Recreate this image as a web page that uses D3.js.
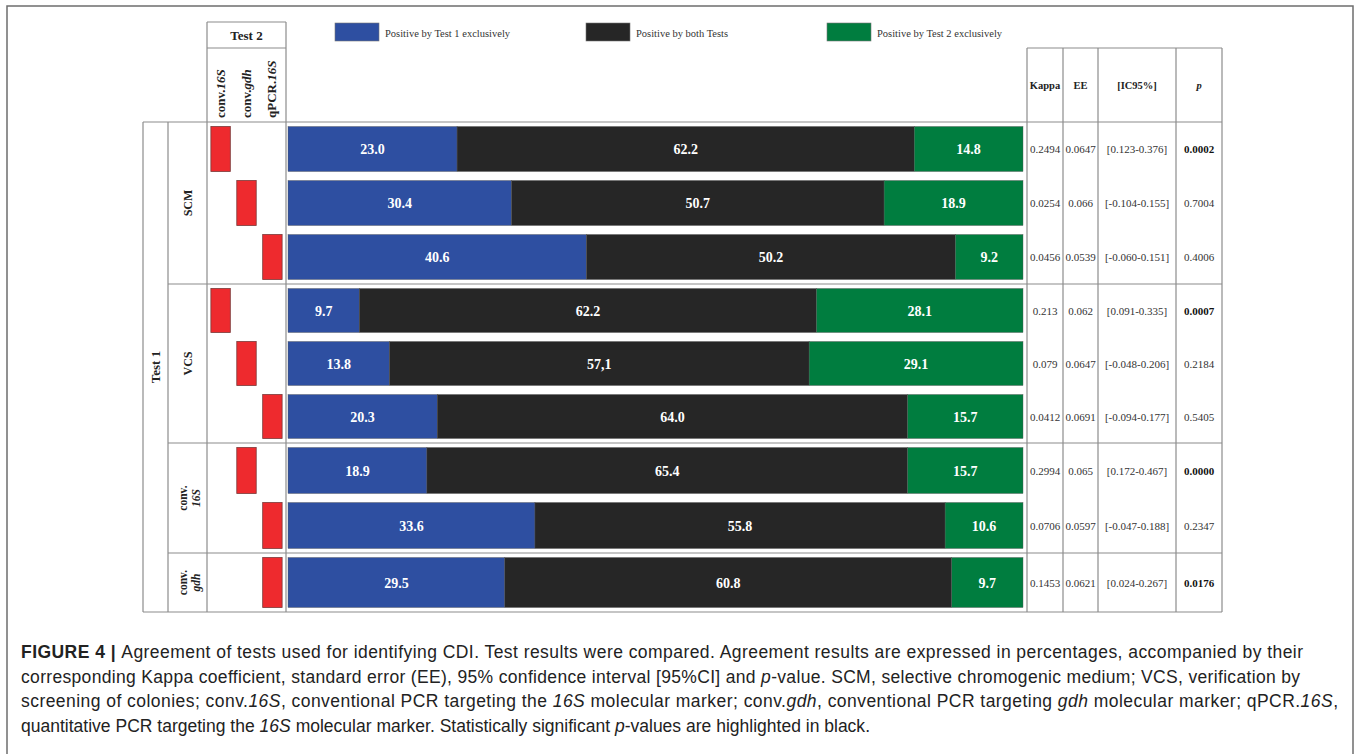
<!DOCTYPE html>
<html>
<head>
<meta charset="utf-8">
<script src="https://cdn.jsdelivr.net/npm/d3@7"></script>
<style>
  html, body { margin: 0; padding: 0; background: #fff; }
  svg { display: block; }
  .serif { font-family: "Liberation Serif", "Times New Roman", serif; }
  .cap { font-family: "Liberation Sans", Arial, sans-serif; font-size: 17.5px; fill: #222; }
</style>
</head>
<body>
<svg id="chart" width="1357" height="754"></svg>
<script>
// ---- data ----
var groups = ['SCM', 'VCS', 'conv.16S', 'conv.gdh'];
var test2Tests = ['conv.16S', 'conv.gdh', 'qPCR.16S'];
var rowGroup = ['SCM', 'SCM', 'SCM', 'VCS', 'VCS', 'VCS', 'conv.16S', 'conv.16S', 'conv.gdh'];
var rowTest2 = ['conv.16S', 'conv.gdh', 'qPCR.16S', 'conv.16S', 'conv.gdh', 'qPCR.16S', 'conv.gdh', 'qPCR.16S', 'qPCR.16S'];
var seriesNames = ['Positive by Test 1 exclusively', 'Positive by both Tests', 'Positive by Test 2 exclusively'];
var onlyTest1 = [23.0, 30.4, 40.6, 9.7, 13.8, 20.3, 18.9, 33.6, 29.5];
var bothTests = [62.2, 50.7, 50.2, 62.2, 57.1, 64.0, 65.4, 55.8, 60.8];
var onlyTest2 = [14.8, 18.9, 9.2, 28.1, 29.1, 15.7, 15.7, 10.6, 9.7];
var commaLabel = [[4, 1]]; // row 5 middle value is printed as "57,1"
var kappa = ['0.2494', '0.0254', '0.0456', '0.213', '0.079', '0.0412', '0.2994', '0.0706', '0.1453'];
var ee = ['0.0647', '0.066', '0.0539', '0.062', '0.0647', '0.0691', '0.065', '0.0597', '0.0621'];
var ic95 = ['[0.123-0.376]', '[-0.104-0.155]', '[-0.060-0.151]', '[0.091-0.335]', '[-0.048-0.206]',
            '[-0.094-0.177]', '[0.172-0.467]', '[-0.047-0.188]', '[0.024-0.267]'];
var pValues = ['0.0002', '0.7004', '0.4006', '0.0007', '0.2184', '0.5405', '0.0000', '0.2347', '0.0176'];

var svg = d3.select('#chart');
var lineColor = '#8c8c8c';
var colors = d3.scaleOrdinal().domain(seriesNames).range(['#2e4fa1', '#262626', '#007d3f']);

// layout frame of the table
var tableTop = 122, tableBottom = 612;
var groupEdges = [122, 284, 443, 553, 612];
var colX = { test1: 143, sub: 168, markers: 207, bars: 286, kappa: 1027, ee: 1063, ic: 1098, p: 1176, end: 1222 };

var x = d3.scaleLinear().domain([0, 100]).range([colX.bars + 2, colX.kappa - 4]);
var mx = d3.scaleBand().domain(test2Tests).range([colX.markers, colX.bars]).paddingInner(0.25).paddingOuter(0.15);

// one band scale per Test 1 group
var yGroup = {};
groups.forEach(function(g, gi) {
  var rows = d3.range(rowGroup.length).filter(function(i) { return rowGroup[i] === g; });
  yGroup[g] = d3.scaleBand().domain(rows).range([groupEdges[gi], groupEdges[gi + 1]]);
});
function rowTop(i) { return yGroup[rowGroup[i]](i); }
function rowH(i) { return yGroup[rowGroup[i]].bandwidth(); }
function rowMid(i) { return rowTop(i) + rowH(i) / 2; }

// outer figure frame
svg.append('path')
  .attr('d', 'M7,754 V6 H1353 V754')
  .attr('fill', 'none').attr('stroke', '#6e6e6e').attr('stroke-width', 1.5);

// ---- legend ----
var legendX = [335, 586, 827];
var legend = svg.append('g').attr('class', 'serif');
seriesNames.forEach(function(s, i) {
  legend.append('rect')
    .attr('x', legendX[i]).attr('y', 23).attr('width', 44).attr('height', 18)
    .attr('fill', colors(s)).attr('stroke', '#777').attr('stroke-width', 0.6);
  legend.append('text')
    .attr('x', legendX[i] + 50).attr('y', 37)
    .style('font-size', '10.5px').style('fill', '#333')
    .text(s);
});

// ---- grid lines ----
var grid = svg.append('g').attr('stroke', lineColor).attr('stroke-width', 1.2).attr('fill', 'none');
function hline(x1, x2, y) { grid.append('line').attr('x1', x1).attr('x2', x2).attr('y1', y).attr('y2', y); }
function vline(xv, y1, y2) { grid.append('line').attr('x1', xv).attr('x2', xv).attr('y1', y1).attr('y2', y2); }

hline(colX.test1, colX.end, tableTop);
hline(colX.test1, colX.end, tableBottom);
groupEdges.slice(1, -1).forEach(function(y) { hline(colX.sub, colX.end, y); });
vline(colX.test1, tableTop, tableBottom);
vline(colX.sub, tableTop, tableBottom);
vline(colX.markers, 22, tableBottom);
vline(colX.bars, 22, tableBottom);
hline(colX.markers, colX.bars, 22);
hline(colX.markers, colX.bars, 48);
hline(colX.kappa, colX.end, 48);
[colX.kappa, colX.ee, colX.ic, colX.p, colX.end].forEach(function(xv) { vline(xv, 48, tableBottom); });

// ---- Test 2 header ----
var head = svg.append('g').attr('class', 'serif').style('font-weight', 'bold').style('fill', '#222');
head.append('text')
  .attr('x', (colX.markers + colX.bars) / 2).attr('y', 40)
  .attr('text-anchor', 'middle').style('font-size', '13px')
  .text('Test 2');

test2Tests.forEach(function(t) {
  var parts = t.split('.');
  var tx = head.append('text')
    .attr('transform', 'translate(' + (mx(t) + mx.bandwidth() / 2 + 4) + ',118) rotate(-90)')
    .style('font-size', '13px');
  tx.append('tspan').text(parts[0] + '.');
  tx.append('tspan').style('font-style', 'italic').text(parts[1]);
});

// right table header
var tableCols = [
  { key: 'kappa', x0: colX.kappa, x1: colX.ee, title: 'Kappa', vals: kappa },
  { key: 'ee', x0: colX.ee, x1: colX.ic, title: 'EE', vals: ee },
  { key: 'ic', x0: colX.ic, x1: colX.p, title: '[IC95%]', vals: ic95 },
  { key: 'p', x0: colX.p, x1: colX.end, title: 'p', vals: pValues }
];
tableCols.forEach(function(c) {
  head.append('text')
    .attr('x', (c.x0 + c.x1) / 2).attr('y', 89)
    .attr('text-anchor', 'middle')
    .style('font-size', '10.5px')
    .style('font-style', c.key === 'p' ? 'italic' : 'normal')
    .text(c.title);
});

// ---- Test 1 labels ----
head.append('text')
  .attr('transform', 'translate(' + ((colX.test1 + colX.sub) / 2 + 4) + ',' + ((tableTop + tableBottom) / 2) + ') rotate(-90)')
  .attr('text-anchor', 'middle').style('font-size', '13px')
  .text('Test 1');

groups.forEach(function(g, gi) {
  var cy = (groupEdges[gi] + groupEdges[gi + 1]) / 2;
  var cx = (colX.sub + colX.markers) / 2;
  var parts = g.split('.');
  if (parts.length === 1) {
    head.append('text')
      .attr('transform', 'translate(' + (cx + 4) + ',' + cy + ') rotate(-90)')
      .attr('text-anchor', 'middle').style('font-size', '12px')
      .text(g);
  } else {
    head.append('text')
      .attr('transform', 'translate(' + (cx - 1) + ',' + cy + ') rotate(-90)')
      .attr('text-anchor', 'middle').style('font-size', '11.5px')
      .text(parts[0] + '.');
    head.append('text')
      .attr('transform', 'translate(' + (cx + 12) + ',' + cy + ') rotate(-90)')
      .attr('text-anchor', 'middle').style('font-size', '11.5px').style('font-style', 'italic')
      .text(parts[1]);
  }
});

// ---- red markers ----
svg.append('g').selectAll('rect')
    .data(d3.range(rowGroup.length))
  .enter().append('rect')
    .attr('x', function(i) { return mx(rowTest2[i]); })
    .attr('y', function(i) { return rowTop(i) + 4.5; })
    .attr('width', mx.bandwidth())
    .attr('height', function(i) { return rowH(i) - 9; })
    .attr('fill', '#ee2a2e')
    .attr('stroke', '#7a3a3a').attr('stroke-width', 0.8);

// ---- stacked bars ----
var stackData = d3.range(rowGroup.length).map(function(i) {
  var o = { row: i };
  o[seriesNames[0]] = onlyTest1[i];
  o[seriesNames[1]] = bothTests[i];
  o[seriesNames[2]] = onlyTest2[i];
  return o;
});
var stacked = d3.stack().keys(seriesNames)(stackData);

var layers = svg.append('g').selectAll('g')
    .data(stacked)
  .enter().append('g')
    .attr('fill', function(d) { return colors(d.key); });

layers.selectAll('rect')
    .data(function(d) { return d; })
  .enter().append('rect')
    .attr('x', function(d) { return x(d[0]); })
    .attr('y', function(d) { return rowTop(d.data.row) + 4.5; })
    .attr('width', function(d) { return x(d[1]) - x(d[0]); })
    .attr('height', function(d) { return rowH(d.data.row) - 9; })
    .attr('stroke', '#555').attr('stroke-width', 0.4);

var fmt = d3.format('.1f');
layers.each(function(layer, li) {
  d3.select(this).selectAll('text')
      .data(layer)
    .enter().append('text')
      .attr('class', 'serif')
      .attr('x', function(d) { return (x(d[0]) + x(d[1])) / 2; })
      .attr('y', function(d) { return rowMid(d.data.row) + 5; })
      .attr('text-anchor', 'middle')
      .style('font-size', '14px').style('font-weight', 'bold').style('fill', '#fff')
      .text(function(d) {
        var s = fmt(d[1] - d[0]);
        var comma = commaLabel.some(function(c) { return c[0] === d.data.row && c[1] === li; });
        return comma ? s.replace('.', ',') : s;
      });
});

// ---- right table values ----
var vals = svg.append('g').attr('class', 'serif').style('fill', '#333');
tableCols.forEach(function(c) {
  vals.selectAll('text.' + c.key)
      .data(c.vals)
    .enter().append('text')
      .attr('class', c.key)
      .attr('x', (c.x0 + c.x1) / 2)
      .attr('y', function(d, i) { return rowMid(i) + 4; })
      .attr('text-anchor', 'middle')
      .style('font-size', '11px')
      .style('font-weight', function(d) { return c.key === 'p' && +d < 0.05 ? 'bold' : 'normal'; })
      .style('fill', function(d) { return c.key === 'p' && +d < 0.05 ? '#111' : '#333'; })
      .text(function(d) { return d; });
});

// ---- caption ----
var captionLines = [
  [['b', 'FIGURE 4 | '], ['', 'Agreement of tests used for identifying CDI. Test results were compared. Agreement results are expressed in percentages, accompanied by their']],
  [['', 'corresponding Kappa coefficient, standard error (EE), 95% confidence interval [95%CI] and '], ['i', 'p'], ['', '-value. SCM, selective chromogenic medium; VCS, verification by']],
  [['', 'screening of colonies; conv.'], ['i', '16S'], ['', ', conventional PCR targeting the '], ['i', '16S'], ['', ' molecular marker; conv.'], ['i', 'gdh'], ['', ', conventional PCR targeting '], ['i', 'gdh'], ['', ' molecular marker; qPCR.'], ['i', '16S'], ['', ',']],
  [['', 'quantitative PCR targeting the '], ['i', '16S'], ['', ' molecular marker. Statistically significant '], ['i', 'p'], ['', '-values are highlighted in black.']]
];
var captionWidths = [1282, 1279, 1317, 849];
var cap = svg.append('g').attr('class', 'cap');
captionLines.forEach(function(line, li) {
  var t = cap.append('text')
    .attr('x', 21).attr('y', 658 + li * 24.6)
    .attr('textLength', captionWidths[li]).attr('lengthAdjust', 'spacing');
  line.forEach(function(seg) {
    t.append('tspan')
      .style('font-weight', seg[0] === 'b' ? 'bold' : 'normal')
      .style('font-style', seg[0] === 'i' ? 'italic' : 'normal')
      .text(seg[1]);
  });
});
</script>
</body>
</html>
